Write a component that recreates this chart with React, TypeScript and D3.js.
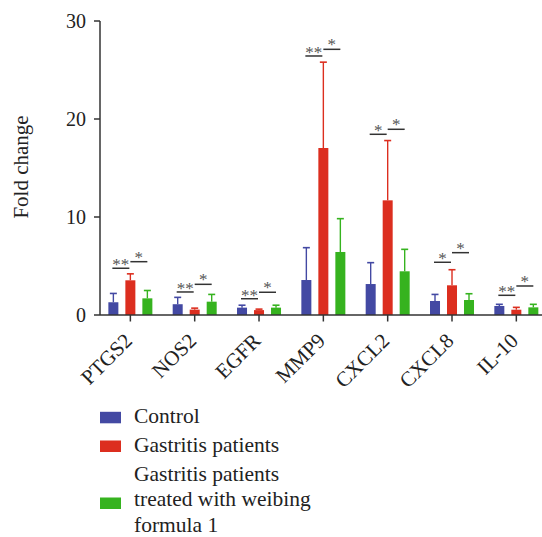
import React from "react";
import * as d3 from "d3";

const categories = ["PTGS2", "NOS2", "EGFR", "MMP9", "CXCL2", "CXCL8", "IL-10"];
const seriesNames = ["Control", "Gastritis patients", "Gastritis patients treated with weibing formula 1"];
const controlMean = [1.3, 1.1, 0.75, 3.57, 3.16, 1.43, 0.92];
const patientsMean = [3.54, 0.55, 0.5, 17.04, 11.7, 3.03, 0.54];
const treatedMean = [1.7, 1.36, 0.75, 6.43, 4.46, 1.53, 0.78];
const controlSD = [0.9, 0.7, 0.25, 3.3, 2.18, 0.67, 0.17];
const patientsSD = [0.66, 0.15, 0.1, 8.76, 6.1, 1.59, 0.24];
const treatedSD = [0.8, 0.74, 0.25, 3.4, 2.24, 0.64, 0.31];
// significance: control vs patients, patients vs treated
const sigLeftLabel = ["**", "**", "**", "**", "*", "*", "**"];
const sigLeftLevel = [4.77, 2.35, 1.66, 26.43, 18.44, 5.38, 2.01];
const sigRightLabel = ["*", "*", "*", "*", "*", "*", "*"];
const sigRightLevel = [5.44, 3.13, 2.32, 27.11, 18.95, 6.36, 2.96];
const yTicks = [0, 10, 20, 30];
const legendLines = [["Control"], ["Gastritis patients"], ["Gastritis patients", "treated with weibing", "formula 1"]];

const colors = ["#4349a3", "#dc2e1f", "#36b31f"];
const FONT = "Liberation Serif, DejaVu Serif, serif";
const AXIS = "#333";

export default function App() {
  const x = d3.scaleBand<string>().domain(categories).range([98.2, 548.5]);
  const inner = d3.scaleBand<string>().domain(seriesNames).range([-25.5, 25.5]);
  const y = d3.scaleLinear().domain([0, 30]).range([315, 21]);
  const means = [controlMean, patientsMean, treatedMean];
  const sds = [controlSD, patientsSD, treatedSD];
  const barW = 10;
  const capW = 7;

  const center = (ci: number, si: number) =>
    (x(categories[ci]) as number) + x.bandwidth() / 2 + (inner(seriesNames[si]) as number) + inner.bandwidth() / 2;

  return (
    <svg width={542} height={537} style={{ position: "absolute", left: 0, top: 0, background: "#fff" }}>
      <g style={{ fontFamily: FONT }}>
      {/* bars */}
      {categories.map((c, ci) =>
        seriesNames.map((s, si) => {
          const cx = center(ci, si);
          const m = means[si][ci];
          const top = m + sds[si][ci];
          return (
            <g key={c + s}>
              <line x1={cx} x2={cx} y1={y(m)} y2={y(top)} stroke={colors[si]} strokeWidth={1.4} />
              <line x1={cx - capW / 2} x2={cx + capW / 2} y1={y(top)} y2={y(top)} stroke={colors[si]} strokeWidth={1.6} />
              <rect x={cx - barW / 2} y={y(m)} width={barW} height={y(0) - y(m)} fill={colors[si]} />
            </g>
          );
        })
      )}
      {/* significance */}
      {categories.map((c, ci) => {
        const b = center(ci, 0);
        const r = center(ci, 1);
        const g = center(ci, 2);
        const yl = y(sigLeftLevel[ci]);
        const yr = y(sigRightLevel[ci]);
        return (
          <g key={"sig" + c}>
            <line x1={b - 1} x2={r - 1} y1={yl} y2={yl} stroke="#333" strokeWidth={1.5} />
            <text x={(b + r) / 2 - 1} y={yl + 2} textAnchor="middle" fontSize={17} fill="#555">
              {sigLeftLabel[ci]}
            </text>
            <line x1={r} x2={g} y1={yr} y2={yr} stroke="#333" strokeWidth={1.5} />
            <text x={(r + g) / 2} y={yr + 1} textAnchor="middle" fontSize={17} fill="#555">
              {sigRightLabel[ci]}
            </text>
          </g>
        );
      })}
      {/* y axis */}
      <line x1={100} x2={100} y1={y(30)} y2={y(0)} stroke={AXIS} strokeWidth={1.5} />
      {yTicks.map((t) => (
        <g key={"yt" + t}>
          <line x1={94} x2={100} y1={y(t)} y2={y(t)} stroke={AXIS} strokeWidth={1.5} />
          <text x={86} y={y(t) + 7} textAnchor="end" fontSize={20} fill="#222">
            {t}
          </text>
        </g>
      ))}
      <text transform={`translate(28,167) rotate(-90)`} textAnchor="middle" fontSize={21} fill="#222">
        Fold change
      </text>
      {/* x axis */}
      <line x1={100} x2={542} y1={y(0)} y2={y(0)} stroke={AXIS} strokeWidth={1.5} />
      {categories.map((c) => {
        const cx = (x(c) as number) + x.bandwidth() / 2;
        return (
          <g key={"xt" + c}>
            <line x1={cx} x2={cx} y1={315} y2={321.5} stroke={AXIS} strokeWidth={1.5} />
            <text transform={`translate(${cx + 3},342) rotate(-45)`} textAnchor="end" fontSize={21} fill="#222">
              {c}
            </text>
          </g>
        );
      })}
      {/* legend */}
      {(() => {
        const rowsBaseline = [423.3, 451.7, 480.5];
        const squareBottom = [423.3, 452, 509];
        return legendLines.map((lines, i) => (
          <g key={"lg" + i}>
            <rect x={100} y={squareBottom[i] - 11.5} width={21} height={11.5} fill={colors[i]} />
            <text x={134} y={rowsBaseline[i]} fontSize={21.5} fill="#222">
              {lines.map((ln, k) => (
                <tspan key={k} x={134} dy={k === 0 ? 0 : 25.5}>
                  {ln}
                </tspan>
              ))}
            </text>
          </g>
        ));
      })()}
      </g>
    </svg>
  );
}
